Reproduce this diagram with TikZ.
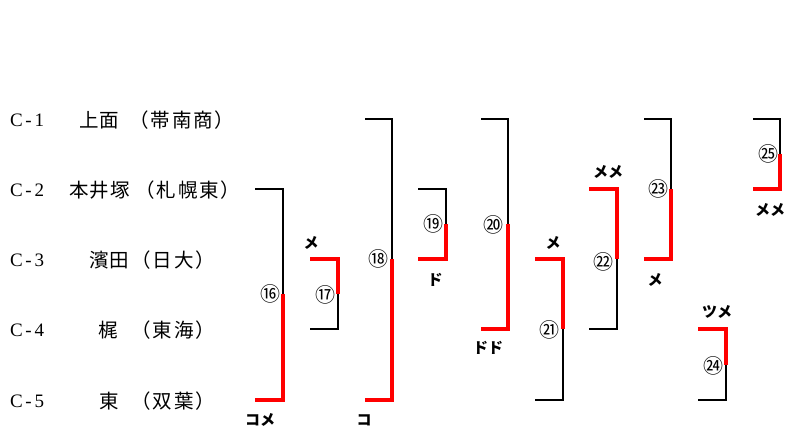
\documentclass[tikz,border=0pt]{standalone}
\usepackage{fontspec}
\setmainfont{Liberation Serif}
\newfontfamily\jp{Noto Sans CJK JP}
\newfontfamily\jpw[LetterSpace=5]{Noto Sans CJK JP}
\newfontfamily\jpt[LetterSpace=10]{Noto Sans CJK JP}
\newcommand{\rowid}[1]{C\hspace{2.5pt}-\hspace{3pt}#1}
\tikzset{
  blk/.style={draw=black,line width=1.3pt},
  rd/.style={draw=red,line width=4.5pt,line join=miter},
  rowlab/.style={anchor=west,inner sep=0pt,font=\fontsize{19}{19}\selectfont},
  nm/.style={anchor=west,inner sep=0pt,font=\jpw\fontsize{19.5}{19.5}\selectfont},
  tm/.style={anchor=west,inner sep=0pt,font=\jpt\fontsize{19.5}{19.5}\selectfont},
  num/.style={inner sep=0pt,font=\jp\fontsize{20}{20}\selectfont},
  res/.style={inner sep=0pt,font=\jp\bfseries\fontsize{15}{15}\selectfont}
}
\begin{document}
\begin{tikzpicture}[x=1pt,y=-1pt]
\useasboundingbox[fill=white] (0,0) rectangle (787,427);
% rows
\foreach \i/\y in {1/120,2/190,3/260,4/330,5/401}{
  \node[rowlab] (c\i) at (10,\y) {\rowid{\i}};
}
\node[nm] (n1) at (79,120) {上面};
\node[nm] (n2) at (69,190) {本井塚};
\node[nm] (n3) at (89,260) {濱田};
\node[nm] (n4) at (98,330) {梶};
\node[nm] (n5) at (99,401) {東};
\node[tm] (t1) at (129,120) {（帯南商）};
\node[tm] (t2) at (135,190) {（札幌東）};
\node[tm] (t3) at (131,260) {（日大）};
\node[tm] (t4) at (131,330) {（東海）};
\node[tm] (t5) at (131,401) {（双葉）};
% 16
\draw[blk] (255,189) -| (283,294);
\draw[rd] (283,294) |- (255,400);
\node[num] (m16) at (270,294) {⑯};
\node[res] (r16) at (260,420) {コメ};
% 17
\draw[rd] (310,259) -| (338,294);
\draw[blk] (338,294) |- (310,329);
\node[num] (m17) at (325,295) {⑰};
\node[res] (r17) at (311,243) {メ};
% 18
\draw[blk] (365,119) -| (392,259);
\draw[rd] (392,259) |- (365,400);
\node[num] (m18) at (378,259) {⑱};
\node[res] (r18) at (364,420) {コ};
% 19
\draw[blk] (418,189) -| (446,224);
\draw[rd] (446,224) |- (418,259);
\node[num] (m19) at (433,224) {⑲};
\node[res] (r19) at (435,280) {ド};
% 20
\draw[blk] (481,119) -| (508,224);
\draw[rd] (508,224) |- (481,329);
\node[num] (m20) at (493,225) {⑳};
\node[res] (r20) at (488,348) {ドド};
% 21
\draw[rd] (535,259) -| (563,329);
\draw[blk] (563,329) |- (535,400);
\node[num] (m21) at (549,330) {㉑};
\node[res] (r21) at (553,243) {メ};
% 22
\draw[rd] (589,189) -| (617,259);
\draw[blk] (617,259) |- (589,329);
\node[num] (m22) at (603,262) {㉒};
\node[res] (r22) at (608,172) {メメ};
% 23
\draw[blk] (644,119) -| (671,189);
\draw[rd] (671,189) |- (644,259);
\node[num] (m23) at (658,189) {㉓};
\node[res] (r23) at (655,280) {メ};
% 24
\draw[rd] (698,329) -| (726,365);
\draw[blk] (726,365) |- (698,400);
\node[num] (m24) at (713,366) {㉔};
\node[res] (r24) at (717,312) {ツメ};
% 25
\draw[blk] (753,119) -| (780,154);
\draw[rd] (780,154) |- (753,189);
\node[num] (m25) at (768,154) {㉕};
\node[res] (r25) at (770,210) {メメ};
\end{tikzpicture}
\end{document}
